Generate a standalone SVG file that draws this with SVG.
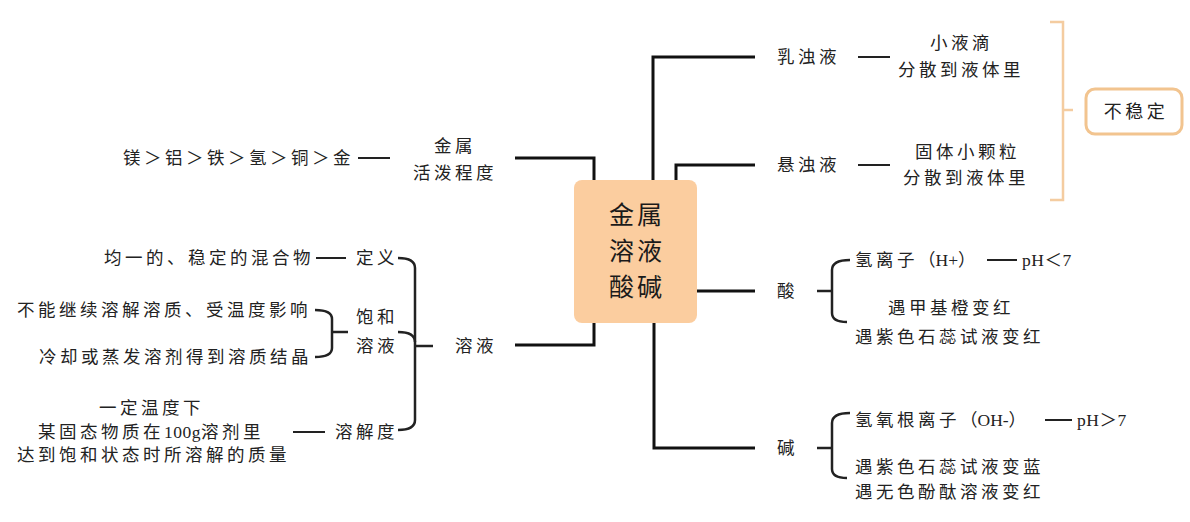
<svg xmlns="http://www.w3.org/2000/svg" width="1190" height="522" viewBox="0 0 1190 522">
<style>
.t { font-family: "Liberation Serif", "Noto Sans CJK SC", serif; font-size: 17.5px; letter-spacing: 3.5px; fill: #222; dominant-baseline: central; }
.c { font-size: 25px; letter-spacing: 3px; text-anchor: middle; fill: #1a1a1a; }
.lat { letter-spacing: 0.5px; }
.main { fill: none; stroke: #111; stroke-width: 3; }
.br { fill: none; stroke: #222; stroke-width: 2.5; }
.dash { fill: none; stroke: #222; stroke-width: 2; }
.ob { fill: none; stroke: #f4cca0; stroke-width: 2.5; }
</style>
<rect width="1190" height="522" fill="#ffffff"/>

<g id="connectors">
  <path class="main" d="M515,158 H594 V180"/>
  <path class="main" d="M653,180 V57 H755"/>
  <path class="main" d="M676,180 V165 H755"/>
  <path class="main" d="M515,345 H594 V323"/>
  <path class="main" d="M697,291 H755"/>
  <path class="main" d="M654,323 V448 H755"/>
  <path class="dash" d="M358,158 H390"/>
  <path class="dash" d="M316,258 H346"/>
  <path class="dash" d="M293,432 H325"/>
  <path class="br" d="M398,258 Q415,258 415,268 V420 Q415,430 398,430"/>
  <path class="br" d="M398,332 Q415,332 415,342"/>
  <path class="br" d="M415,346 H433"/>
  <path class="br" d="M315,310 Q332,310 332,319 V348 Q332,357 315,357"/>
  <path class="br" d="M332,332 H348"/>
  <path class="dash" d="M858,57 H890"/>
  <path class="dash" d="M858,165 H890"/>
  <path class="dash" d="M987,260 H1017"/>
  <path class="dash" d="M1045,420 H1072"/>
  <path class="br" d="M850,260 Q832,260 832,270 V313 Q832,322 847,322"/>
  <path class="br" d="M817,291 H832"/>
  <path class="br" d="M850,413 Q832,413 832,423 V469 Q832,478 847,478"/>
  <path class="br" d="M817,448 H832"/>
  <path class="ob" d="M1050,22 H1063 V200 H1050"/>
  <path class="ob" d="M1063,110 H1073"/>
</g>

<g id="center">
  <rect x="574" y="180" width="123" height="143" rx="8" fill="#fbcd9f"/>
  <text class="t c" x="637" y="215">金属</text>
  <text class="t c" x="637" y="251">溶液</text>
  <text class="t c" x="637" y="287">酸碱</text>
</g>

<g id="metal">
  <text class="t" x="434" y="146">金属</text>
  <text class="t" x="413" y="173">活泼程度</text>
</g>
<g id="metal-order">
  <text class="t" x="123" y="158">镁＞铝＞铁＞氢＞铜＞金</text>
</g>

<g id="solution">
  <text class="t" x="455" y="346">溶液</text>
</g>
<g id="definition">
  <text class="t" x="356" y="258">定义</text>
  <text class="t" x="104" y="258">均一的、稳定的混合物</text>
</g>
<g id="saturated">
  <text class="t" x="356" y="317">饱和</text>
  <text class="t" x="356" y="346">溶液</text>
  <text class="t" x="17" y="310">不能继续溶解溶质、受温度影响</text>
  <text class="t" x="39" y="357">冷却或蒸发溶剂得到溶质结晶</text>
</g>
<g id="solubility">
  <text class="t" x="335" y="432">溶解度</text>
  <text class="t" x="99" y="408">一定温度下</text>
  <text class="t" x="38" y="432">某固态物质在<tspan class="lat">100g</tspan>溶剂里</text>
  <text class="t" x="17" y="455">达到饱和状态时所溶解的质量</text>
</g>

<g id="emulsion">
  <text class="t" x="777" y="57">乳浊液</text>
  <text class="t" x="930" y="43">小液滴</text>
  <text class="t" x="898" y="70">分散到液体里</text>
</g>
<g id="suspension">
  <text class="t" x="777" y="165">悬浊液</text>
  <text class="t" x="915" y="152">固体小颗粒</text>
  <text class="t" x="903" y="178">分散到液体里</text>
</g>
<g id="unstable">
  <rect x="1086" y="89" width="96" height="45" rx="9" fill="#ffffff" stroke="#f2c48f" stroke-width="3"/>
  <text class="t" x="1136" y="112" style="text-anchor:middle;font-size:18px">不稳定</text>
</g>

<g id="acid">
  <text class="t" x="777" y="291">酸</text>
  <text class="t" x="855" y="260">氢离子<tspan style="letter-spacing:0">（H+）</tspan></text>
  <text class="t lat" x="1022" y="260">pH＜7</text>
  <text class="t" x="888" y="308">遇甲基橙变红</text>
  <text class="t" x="855" y="337">遇紫色石蕊试液变红</text>
</g>
<g id="base">
  <text class="t" x="777" y="448">碱</text>
  <text class="t" x="855" y="420">氢氧根离子<tspan style="letter-spacing:0">（OH-）</tspan></text>
  <text class="t lat" x="1077" y="420">pH＞7</text>
  <text class="t" x="855" y="467">遇紫色石蕊试液变蓝</text>
  <text class="t" x="855" y="492">遇无色酚酞溶液变红</text>
</g>
</svg>
